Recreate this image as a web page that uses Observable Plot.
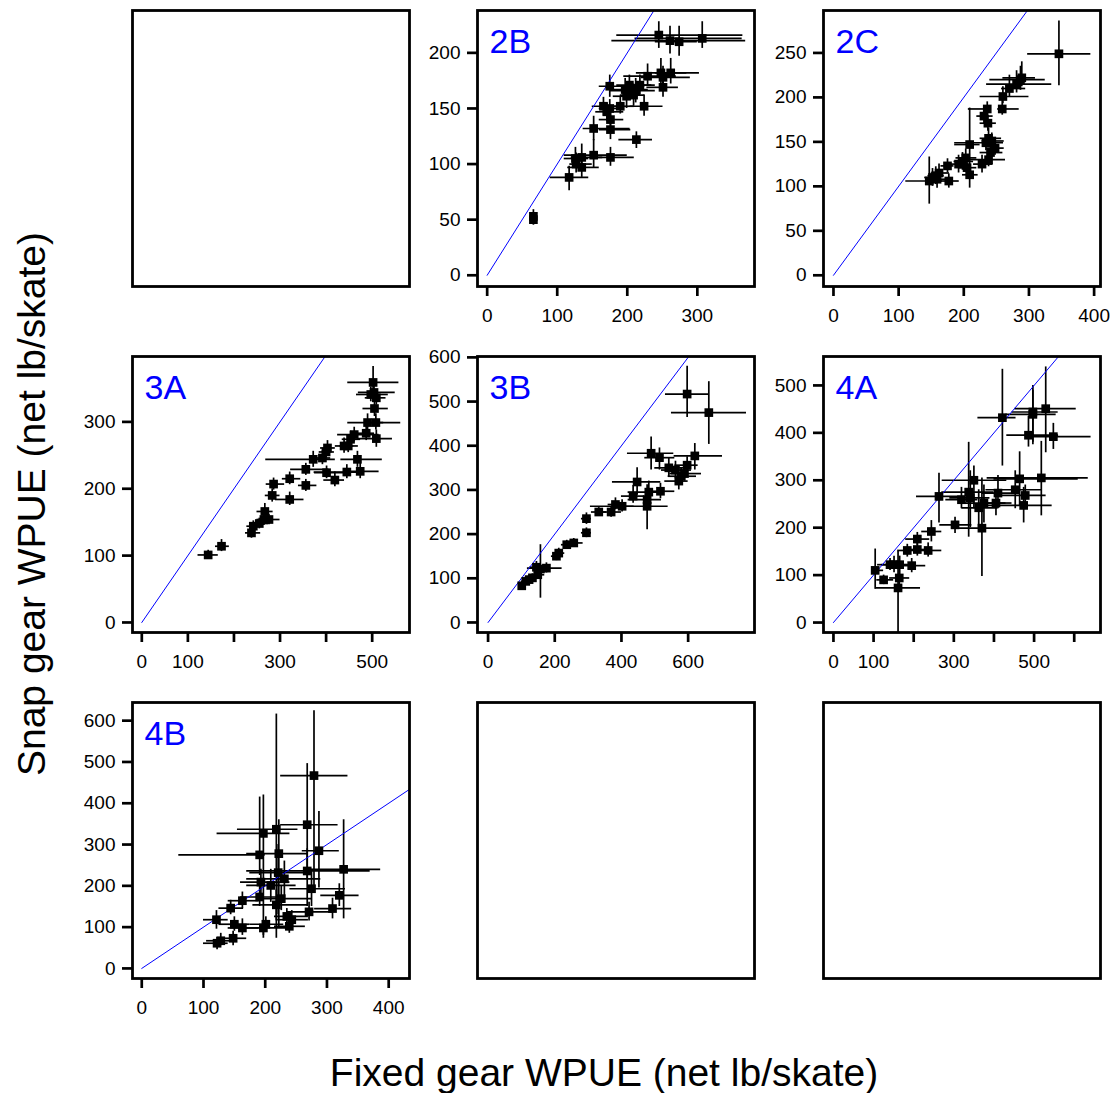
<!DOCTYPE html>
<html>
<head>
<meta charset="utf-8">
<script src="https://cdn.jsdelivr.net/npm/d3@7"></script>
<script src="https://cdn.jsdelivr.net/npm/@observablehq/plot@0.6"></script>
<style>
  body { margin: 0; background: #fff; }
  #fig { position: relative; width: 1113px; height: 1093px; overflow: hidden; font-family: "Liberation Sans", Arial, sans-serif; }
  .panel { position: absolute; }
  .title { position: absolute; white-space: nowrap; font-size: 39px; line-height: 1; color: #000; }
</style>
</head>
<body>
<div id="fig"></div>
<script>
// ---------- DATA: each row = [fixed x, snap y, x low, x high, y low, y high] ----------
const d2B = [
  [66, 53, 62, 70, 47, 59], [66, 50, 61, 71, 45, 56], [117, 88, 90, 145, 76, 98],
  [127, 100, 118, 150, 92, 110], [126, 105, 110, 145, 98, 115], [135, 97, 115, 160, 88, 107],
  [135, 106, 120, 165, 98, 118], [152, 108, 110, 200, 96, 122], [176, 106, 155, 210, 98, 115],
  [213, 122, 188, 236, 114, 129], [152, 132, 137, 204, 121, 143], [176, 131, 160, 205, 122, 141],
  [176, 140, 160, 195, 132, 148], [171, 147, 155, 195, 138, 155], [166, 152, 150, 195, 143, 160],
  [175, 150, 160, 195, 140, 158], [190, 152, 176, 210, 145, 160], [224, 152, 204, 251, 143, 162],
  [175, 170, 160, 225, 160, 180], [197, 167, 180, 230, 158, 177], [203, 171, 185, 235, 162, 180],
  [212, 166, 175, 240, 155, 177], [199, 161, 180, 215, 150, 172], [209, 162, 190, 225, 152, 172],
  [218, 171, 200, 240, 162, 180], [229, 179, 195, 270, 170, 190], [248, 182, 213, 303, 172, 195],
  [251, 178, 220, 290, 168, 188], [262, 182, 240, 285, 172, 195], [251, 169, 228, 273, 160, 178],
  [245, 216, 185, 365, 204, 228], [261, 211, 178, 369, 199, 224], [274, 210, 240, 300, 197, 224],
  [307, 213, 211, 364, 204, 228]
];
const d2C = [
  [346, 249, 298, 395, 213, 286], [287, 220, 240, 325, 208, 235], [281, 215, 235, 335, 205, 230],
  [289, 222, 260, 310, 212, 240], [270, 210, 258, 295, 200, 225], [260, 201, 225, 300, 193, 212],
  [259, 187, 252, 285, 180, 198], [236, 187, 207, 240, 178, 195], [231, 179, 220, 245, 170, 190],
  [237, 171, 225, 250, 162, 180], [238, 154, 225, 258, 144, 165], [234, 149, 186, 261, 140, 158],
  [243, 151, 228, 262, 142, 160], [248, 143, 235, 262, 135, 152], [241, 138, 225, 260, 128, 148],
  [238, 130, 206, 264, 122, 140], [228, 125, 215, 245, 115, 135], [209, 147, 186, 225, 120, 188],
  [203, 132, 188, 220, 122, 142], [198, 128, 185, 215, 118, 138], [192, 125, 180, 208, 115, 135],
  [205, 121, 192, 220, 112, 130], [209, 113, 198, 222, 98, 124], [175, 123, 165, 185, 115, 131],
  [177, 106, 165, 193, 98, 114], [162, 115, 150, 178, 105, 125], [157, 112, 145, 170, 102, 122],
  [159, 108, 147, 172, 98, 118], [147, 106, 111, 167, 80, 133], [152, 110, 140, 165, 100, 120]
];
const d3A = [
  [144, 101, 122, 166, 95, 108], [173, 114, 160, 190, 106, 124], [238, 134, 225, 258, 126, 144],
  [242, 144, 228, 258, 136, 152], [255, 148, 240, 275, 140, 156], [265, 154, 250, 285, 145, 162],
  [267, 166, 250, 285, 156, 178], [276, 154, 262, 300, 146, 162], [283, 190, 268, 300, 180, 200],
  [286, 207, 270, 310, 198, 216], [321, 215, 305, 345, 206, 225], [321, 184, 290, 352, 175, 195],
  [356, 205, 340, 380, 196, 214], [356, 229, 323, 406, 220, 238], [372, 244, 269, 420, 232, 256],
  [392, 246, 375, 410, 236, 258], [400, 255, 385, 418, 246, 266], [403, 261, 388, 420, 250, 272],
  [401, 224, 375, 453, 215, 234], [419, 213, 395, 440, 203, 225], [439, 264, 420, 460, 253, 276],
  [448, 264, 430, 470, 254, 274], [453, 274, 435, 475, 263, 286], [461, 281, 425, 515, 270, 292],
  [468, 244, 432, 522, 232, 256], [445, 225, 374, 470, 215, 236], [474, 226, 440, 515, 215, 238],
  [487, 283, 470, 505, 272, 295], [490, 299, 447, 562, 288, 312], [508, 299, 490, 525, 288, 312],
  [509, 275, 468, 544, 262, 288], [505, 320, 480, 535, 308, 332], [497, 341, 466, 535, 330, 352],
  [504, 344, 470, 550, 332, 356], [509, 336, 485, 530, 325, 348], [502, 359, 447, 558, 337, 383]
];
const d3B = [
  [597, 517, 532, 662, 464, 580], [662, 475, 550, 775, 403, 545], [489, 383, 418, 557, 345, 420],
  [514, 373, 470, 560, 345, 395], [542, 350, 500, 600, 330, 372], [562, 345, 520, 610, 325, 365],
  [597, 356, 560, 630, 340, 375], [620, 377, 558, 703, 345, 405], [589, 337, 545, 640, 320, 355],
  [579, 331, 540, 625, 312, 350], [572, 320, 530, 600, 300, 340], [447, 318, 373, 518, 288, 350],
  [517, 297, 480, 560, 280, 315], [482, 295, 420, 520, 270, 320], [435, 286, 400, 470, 270, 310],
  [477, 278, 420, 520, 260, 300], [477, 263, 410, 540, 210, 312], [402, 263, 307, 438, 250, 278],
  [382, 267, 360, 405, 255, 282], [369, 250, 340, 400, 238, 262], [332, 250, 310, 355, 240, 260],
  [295, 235, 280, 310, 222, 248], [295, 203, 280, 310, 192, 214], [257, 180, 235, 285, 170, 190],
  [236, 176, 220, 255, 166, 186], [212, 157, 195, 230, 146, 168], [205, 150, 190, 222, 140, 160],
  [175, 123, 118, 222, 112, 135], [157, 121, 140, 175, 55, 176], [145, 125, 125, 165, 112, 138],
  [149, 108, 130, 170, 98, 118], [133, 101, 115, 150, 92, 110], [123, 97, 108, 140, 88, 106],
  [113, 93, 100, 128, 85, 101], [101, 83, 92, 112, 76, 90]
];
const d4A = [
  [529, 451, 452, 605, 358, 539], [497, 444, 445, 560, 375, 500], [497, 439, 430, 555, 380, 490],
  [421, 432, 360, 455, 330, 534], [486, 395, 432, 561, 370, 435], [548, 392, 486, 642, 365, 420],
  [518, 305, 383, 635, 225, 382], [464, 303, 400, 610, 245, 360], [453, 280, 380, 520, 240, 320],
  [478, 268, 420, 530, 250, 290], [474, 247, 380, 545, 210, 285], [350, 300, 271, 432, 240, 330],
  [337, 275, 270, 400, 180, 380], [341, 263, 290, 390, 200, 320], [319, 259, 280, 360, 240, 285],
  [362, 242, 320, 410, 200, 280], [375, 252, 325, 430, 210, 290], [410, 273, 370, 450, 240, 310],
  [405, 252, 370, 445, 225, 278], [263, 266, 207, 329, 210, 315], [303, 206, 265, 345, 188, 222],
  [370, 199, 300, 445, 97, 305], [244, 192, 220, 270, 170, 215], [209, 176, 180, 240, 162, 190],
  [236, 152, 200, 270, 138, 168], [209, 154, 185, 235, 140, 168], [184, 152, 160, 210, 138, 165],
  [195, 120, 170, 230, 105, 135], [165, 122, 140, 190, 100, 140], [151, 122, 120, 185, 105, 140],
  [141, 122, 110, 170, 110, 135], [104, 110, 95, 125, 70, 155], [125, 90, 108, 150, 80, 100],
  [164, 94, 140, 190, 80, 110], [161, 73, 106, 217, -40, 150]
];
const d4B = [
  [279, 467, 225, 334, 195, 624], [268, 348, 225, 318, 215, 496], [218, 337, 155, 253, 73, 616],
  [197, 327, 122, 240, 73, 420], [191, 275, 60, 200, 225, 415], [222, 278, 170, 270, 100, 360],
  [287, 285, 260, 320, 195, 380], [327, 240, 275, 387, 120, 360], [268, 236, 170, 370, 150, 290],
  [275, 193, 240, 330, 150, 240], [231, 217, 170, 290, 170, 260], [221, 232, 175, 265, 130, 300],
  [193, 209, 160, 240, 180, 240], [209, 201, 170, 250, 160, 240], [191, 173, 160, 220, 150, 200],
  [226, 169, 190, 275, 140, 200], [218, 154, 180, 270, 115, 190], [320, 177, 290, 352, 150, 205],
  [309, 145, 280, 340, 120, 170], [271, 137, 235, 310, 115, 160], [235, 126, 215, 270, 110, 145],
  [243, 118, 220, 270, 100, 140], [239, 102, 215, 265, 85, 120], [201, 107, 175, 230, 90, 125],
  [197, 98, 165, 240, 80, 115], [163, 98, 140, 190, 80, 120], [150, 107, 125, 175, 90, 125],
  [163, 164, 140, 190, 145, 185], [144, 146, 125, 165, 130, 165], [121, 118, 100, 140, 95, 140],
  [148, 73, 125, 170, 55, 90], [128, 67, 105, 150, 55, 85], [122, 61, 100, 140, 45, 75]
];

// 1:1 reference line (data units)
const oneToOne = [0, 1000];

// Tick values and labels per panel
const ticks2Bx = [0, 100, 200, 300], ticks2By = [0, 50, 100, 150, 200];
const ticks2Cx = [0, 100, 200, 300, 400], ticks2Cy = [0, 50, 100, 150, 200, 250];
const ticks3Ax = [0, 100, 200, 300, 400, 500], labels3Ax = [0, 100, 300, 500], ticks3Ay = [0, 100, 200, 300];
const ticks3Bx = [0, 200, 400, 600], ticks3By = [0, 100, 200, 300, 400, 500, 600];
const ticks4Ax = [0, 100, 200, 300, 400, 500, 600], labels4Ax = [0, 100, 300, 500], ticks4Ay = [0, 100, 200, 300, 400, 500];
const ticks4Bx = [0, 100, 200, 300, 400], ticks4By = [0, 100, 200, 300, 400, 500, 600];

// ---------- LAYOUT ----------
const colLeft = [132, 477, 822.5];
const rowTop = [10, 355.5, 701.5];
const boxW = 277, boxH = 276;
const mL = 72, mR = 8, mT = 8, mB = 48;

const panels = [
  {row: 0, col: 0},
  {row: 0, col: 1, name: "2B", data: d2B, xd: [-13.8, 381.6], yd: [-10.1, 238.1], xt: ticks2Bx, yt: ticks2By},
  {row: 0, col: 2, name: "2C", data: d2C, xd: [-15.3, 409.8], yd: [-12.6, 297.7], xt: ticks2Cx, yt: ticks2Cy},
  {row: 1, col: 0, name: "3A", data: d3A, xd: [-20.2, 581], yd: [-15, 397.8], xt: ticks3Ax, xl: labels3Ax, yt: ticks3Ay},
  {row: 1, col: 1, name: "3B", data: d3B, xd: [-31.7, 799], yd: [-22.7, 602], xt: ticks3Bx, yt: ticks3By},
  {row: 1, col: 2, name: "4A", data: d4A, xd: [-24.8, 665.5], yd: [-21, 561], xt: ticks4Ax, xl: labels4Ax, yt: ticks4Ay},
  {row: 2, col: 0, name: "4B", data: d4B, xd: [-15, 433.7], yd: [-24.4, 644], xt: ticks4Bx, yt: ticks4By},
  {row: 2, col: 1},
  {row: 2, col: 2}
];

const fig = document.getElementById("fig");
const font = "'Liberation Sans', Arial, sans-serif";

for (const p of panels) {
  let marks;
  let opts = {
    width: mL + boxW + mR,
    height: mT + boxH + mB,
    marginLeft: mL, marginRight: mR, marginTop: mT, marginBottom: mB,
    style: {fontFamily: font, background: "transparent", overflow: "visible", color: "black"}
  };
  if (!p.data) {
    opts.x = {domain: [0, 1], axis: null};
    opts.y = {domain: [0, 1], axis: null};
    marks = [Plot.frame({stroke: "black", strokeWidth: 2.8})];
  } else {
    const xl = p.xl || p.xt;
    opts.x = {type: "linear", domain: p.xd};
    opts.y = {type: "linear", domain: p.yd};
    marks = [
      Plot.ruleY(p.data, {y: r => r[1], x1: r => r[2], x2: r => r[3], stroke: "black", strokeWidth: 1.7, clip: true}),
      Plot.ruleX(p.data, {x: r => r[0], y1: r => r[4], y2: r => r[5], stroke: "black", strokeWidth: 1.7, clip: true}),
      Plot.line(oneToOne.map(v => [v, v]), {stroke: "#0000ff", strokeWidth: 1, clip: true}),
      Plot.dot(p.data, {x: r => r[0], y: r => r[1], symbol: "square", r: 4.9, fill: "black", stroke: "none"}),
      Plot.text([p.name], {frameAnchor: "top-left", dx: 12, dy: 18, text: d => d, fill: "#0000ff",
        fontSize: 34, textAnchor: "start", lineAnchor: "top", fontFamily: font}),
      Plot.axisX({ticks: p.xt, tickFormat: d => xl.includes(d) ? String(d) : "", tickSize: 10, tickPadding: 12,
        strokeWidth: 2.7, fontSize: 19, label: null, fill: "black"}),
      Plot.axisY({ticks: p.yt, tickFormat: d => String(d), tickSize: 10, tickPadding: 7,
        strokeWidth: 2.7, fontSize: 19, label: null, fill: "black"}),
      Plot.frame({stroke: "black", strokeWidth: 2.8})
    ];
  }
  opts.marks = marks;
  const chart = Plot.plot(opts);
  const wrap = document.createElement("div");
  wrap.className = "panel";
  wrap.style.left = (colLeft[p.col] - mL) + "px";
  wrap.style.top = (rowTop[p.row] - mT) + "px";
  wrap.appendChild(chart);
  fig.appendChild(wrap);
}

// Axis titles
const yt = document.createElement("div");
yt.className = "title";
yt.textContent = "Snap gear WPUE (net lb/skate)";
yt.style.left = "31px";
yt.style.top = "504px";
yt.style.transform = "translate(-50%, -50%) rotate(-90deg)";
fig.appendChild(yt);

const xt = document.createElement("div");
xt.className = "title";
xt.textContent = "Fixed gear WPUE (net lb/skate)";
xt.style.left = "604px";
xt.style.top = "1072px";
xt.style.transform = "translate(-50%, -50%)";
fig.appendChild(xt);
</script>
</body>
</html>
